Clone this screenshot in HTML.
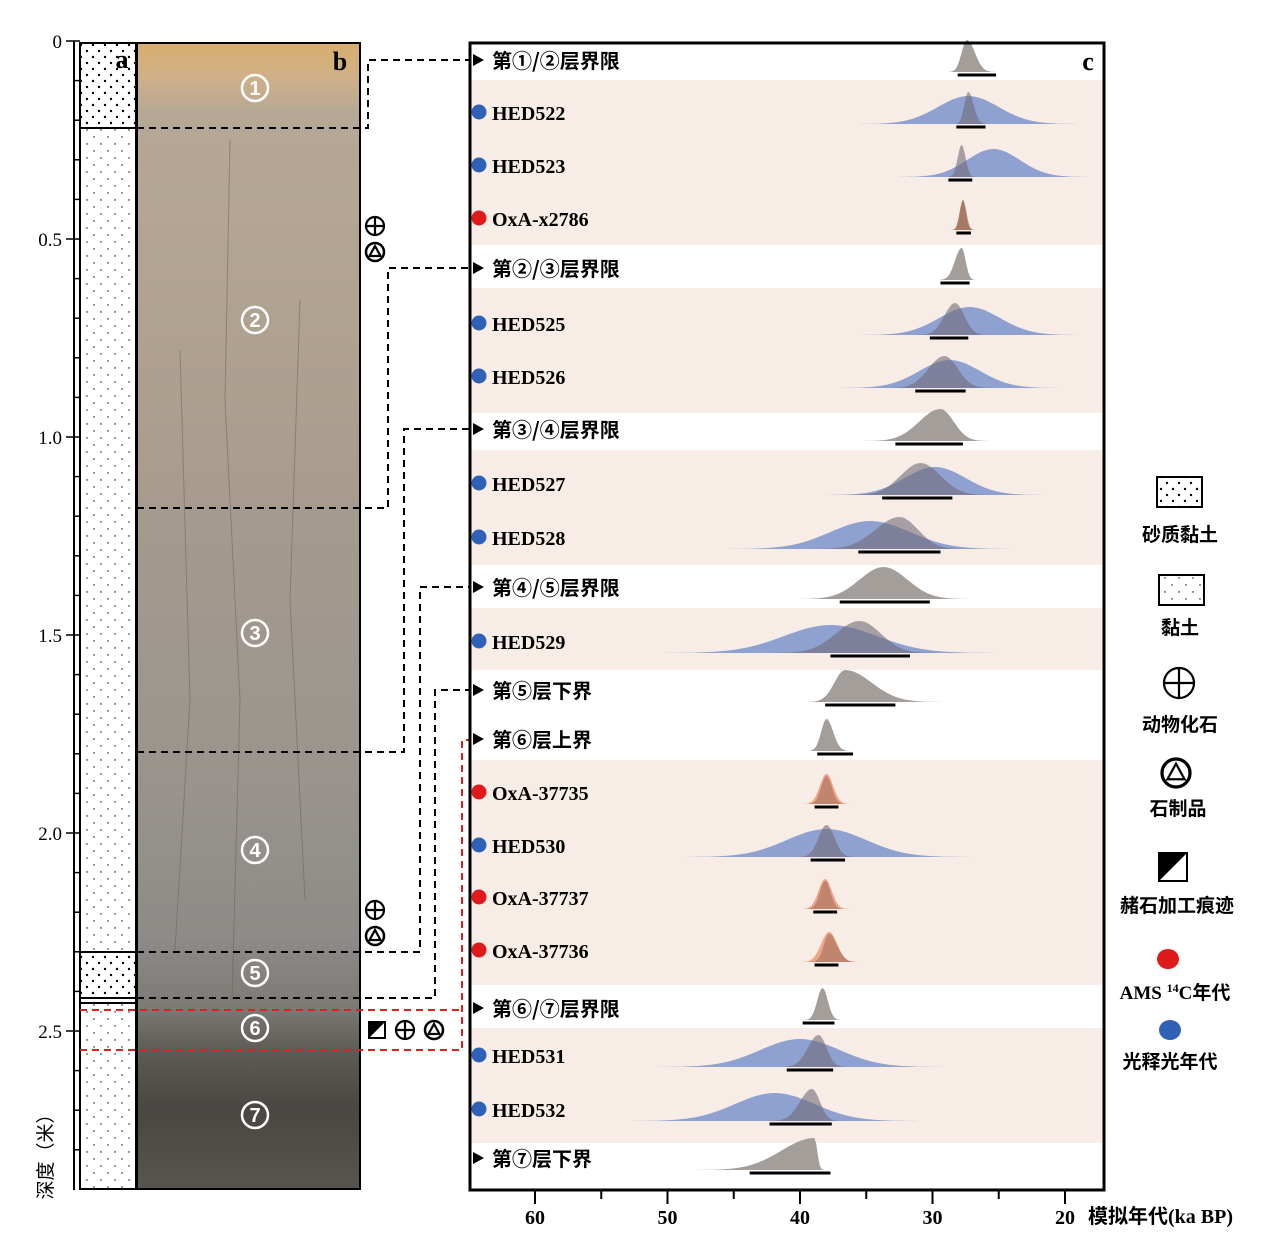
<!DOCTYPE html>
<html><head><meta charset="utf-8">
<style>
html,body{margin:0;padding:0;background:#fff;}
svg{display:block;font-family:"Liberation Serif","Noto Serif CJK SC",serif;}
</style></head>
<body>
<svg id="fig" width="1267" height="1254" viewBox="0 0 1267 1254" xmlns="http://www.w3.org/2000/svg">
<defs>
<pattern id="dense" width="12" height="12" patternUnits="userSpaceOnUse">
<rect width="12" height="12" fill="#fff"/><circle cx="3" cy="3" r="1.2" fill="#000"/><circle cx="9" cy="9" r="1.2" fill="#000"/></pattern>
<pattern id="sparse" width="14" height="14" patternUnits="userSpaceOnUse">
<rect width="14" height="14" fill="#fff"/><circle cx="3" cy="4" r="0.7" fill="#000"/><circle cx="10" cy="11" r="0.7" fill="#000"/></pattern>
<linearGradient id="soil" x1="0" y1="0" x2="0" y2="1">
<stop offset="0" stop-color="#d8ae6c"/><stop offset="0.03" stop-color="#cfb088"/>
<stop offset="0.06" stop-color="#b7a896"/><stop offset="0.35" stop-color="#ac9e8e"/>
<stop offset="0.42" stop-color="#a49a8e"/><stop offset="0.6" stop-color="#9c968e"/>
<stop offset="0.78" stop-color="#8e8b88"/><stop offset="0.84" stop-color="#7e7a76"/>
<stop offset="0.88" stop-color="#5e5a55"/><stop offset="0.93" stop-color="#4a4743"/>
<stop offset="1" stop-color="#585550"/></linearGradient>
</defs>
<g id="left"></g>
<g id="panelc"></g>
<g id="legend"></g>
</svg>
<script>
// ---- chart data ----
const rowLabels=["第①/②层界限","HED522","HED523","OxA-x2786","第②/③层界限","HED525","HED526","第③/④层界限","HED527","HED528","第④/⑤层界限","HED529","第⑤层下界","第⑥层上界","OxA-37735","HED530","OxA-37737","OxA-37736","第⑥/⑦层界限","HED531","HED532","第⑦层下界"];
const rowKinds=["b","o","o","c","b","o","o","b","o","o","b","o","b","b","c","o","c","c","b","o","o","b"];
const grayPeak=[27.4,27.3,27.8,27.7,27.8,28.3,29.1,29.4,30.9,32.5,33.7,35.5,36.6,38.0,38.0,38.0,38.1,37.8,38.3,38.6,39.1,38.9];
const graySigOld=[0.4,0.3,0.3,0.2,0.5,0.8,1.2,1.6,1.5,1.8,1.8,1.8,0.8,0.4,0.4,0.6,0.4,0.4,0.4,0.8,0.9,2.5];
const graySigYoung=[0.6,0.4,0.3,0.2,0.3,0.7,1.0,1.0,1.5,1.4,1.8,1.6,2.0,0.5,0.4,0.6,0.4,0.6,0.4,0.6,0.6,0.2];
const blueMean=[null,27.3,25.4,null,null,27.2,28.7,null,29.8,34.7,null,37.7,null,null,null,38.0,null,null,null,40.0,41.9,null];
const blueSig=[null,2.3,2.0,null,null,2.3,2.3,null,2.3,3.0,null,3.5,null,null,null,3.0,null,null,null,3.0,3.0,null];
const c14Mean=[null,null,null,27.7,null,null,null,null,null,null,null,null,null,null,38.0,null,38.1,37.8,null,null,null,null];
const c14Sig=[null,null,null,0.25,null,null,null,null,null,null,null,null,null,null,0.5,null,0.5,0.6,null,null,null,null];
const rangeOld=[28.1,28.2,28.8,28.2,29.4,30.2,31.3,32.8,33.8,35.6,37.0,37.7,38.1,38.7,38.9,39.2,39.0,38.9,39.8,41.0,42.3,43.8];
const rangeYoung=[25.2,26.0,27.0,27.1,27.2,27.3,27.5,27.7,28.5,29.4,30.2,31.7,32.8,36.0,37.1,36.6,37.2,37.1,37.4,37.5,37.6,37.7];
const xTicks=[60,50,40,30,20];
const depthTicks=["0","0.5","1.0","1.5","2.0","2.5"];

// ---- layout ----
const rowY=[60,112,165,218,268,323,376,429,483,537,587,641,690,739,792,845,897,950,1008,1055,1109,1158];
const bands=[[80,245],[288,413],[450,565],[608,670],[760,985],[1028,1143]];
const NS="http://www.w3.org/2000/svg";
function mk(tag,attrs,parent,text){const e=document.createElementNS(NS,tag);for(const k in attrs)e.setAttribute(k,attrs[k]);if(text!==undefined)e.textContent=text;parent.appendChild(e);return e;}
const xS=v=>535+(60-v)*13.25;
const dY=d=>41+d*396;

// ---- left: columns ----
const L=document.getElementById('left');
let g;
g=mk('g',{},L);
mk('line',{x1:74,y1:41,x2:74,y2:1190,stroke:'#000','stroke-width':2},g);
for(let i=0;i<=28;i++){const y=dY(i/10);mk('line',{x1:i%5==0?66:74,y1:y,x2:80,y2:y,stroke:'#000','stroke-width':1.5},g);}
depthTicks.forEach((t,i)=>{const e=mk('text',{x:62,y:dY(i*0.5)+7,'text-anchor':'end','font-size':19},g,t);});
let yl=mk('text',{x:0,y:0,transform:'translate(52,1152) rotate(-90)','text-anchor':'middle','font-size':19,'font-family':'"Noto Sans CJK SC",sans-serif'},L,'深度（米）');

g=mk('g',{},L);
mk('rect',{x:80,y:43,width:56,height:1146,fill:'url(#sparse)'},g);
mk('rect',{x:80,y:43,width:56,height:85,fill:'url(#dense)'},g);
mk('rect',{x:80,y:952,width:56,height:47,fill:'url(#dense)'},g);
mk('rect',{x:80,y:43,width:56,height:1146,fill:'none',stroke:'#000','stroke-width':2},g);
[128,952,998,1003].forEach(y=>mk('line',{x1:80,y1:y,x2:136,y2:y,stroke:'#000','stroke-width':2},g));
mk('text',{x:122,y:68,'text-anchor':'middle','font-size':26,'font-weight':'bold'},g,'a');
g=mk('g',{},L);
mk('rect',{x:137,y:43,width:223,height:1146,fill:'url(#soil)',stroke:'#000','stroke-width':2},g);
[[230,140,225,400,240,700,232,1000],[300,300,290,600,305,900],[180,350,190,700,175,950]].forEach(p=>{let d='M'+p[0]+' '+p[1];for(let i=2;i<p.length;i+=2)d+=' L'+p[i]+' '+p[i+1];mk('path',{d:d,stroke:'#6a6058','stroke-width':1,fill:'none',opacity:0.5},g);});
mk('text',{x:340,y:70,'text-anchor':'middle','font-size':26,'font-weight':'bold'},g,'b');
[['1',88],['2',320],['3',633],['4',850],['5',973],['6',1028],['7',1115]].forEach(a=>{
  const c=mk('circle',{cx:255,cy:a[1],r:13,fill:'none',stroke:'#fff','stroke-width':2.5},g);
  const e=mk('text',{x:255,y:a[1]+7,'text-anchor':'middle','font-size':20,'font-weight':'bold',fill:'#fff','font-family':'"Liberation Sans",sans-serif'},g,a[0]);
  });
// connectors
g=mk('g',{fill:'none',stroke:'#000','stroke-width':2,'stroke-dasharray':'7,5'},L);
[[128,368,60],[508,388,268],[752,404,429],[952,420,587],[998,435,690]].forEach(c=>{mk('path',{d:`M137 ${c[0]} H${c[1]} V${c[2]} H470`},g);});
mk('path',{d:'M80 1010 H462 M80 1050 H462 V740 H470',stroke:'#e02020'},g);
[60,268,429,587,690,739,1008,1158].forEach(y=>{mk('path',{d:`M473 ${y-6} L484 ${y} L473 ${y+6}Z`,fill:'#000'},L);});
function plusC(cx,cy,p,r){r=r||9;mk('circle',{cx:cx,cy:cy,r:r,fill:'none',stroke:'#000','stroke-width':2.2},p);mk('path',{d:`M${cx-r} ${cy}H${cx+r}M${cx} ${cy-r}V${cy+r}`,stroke:'#000','stroke-width':2.2},p);}
function triC(cx,cy,p,r){r=r||9;const k=r/9;mk('circle',{cx:cx,cy:cy,r:r,fill:'none',stroke:'#000','stroke-width':2.5*Math.min(k,1.3)},p);mk('path',{d:`M${cx} ${cy-6*k}L${cx+5.5*k} ${cy+4*k}L${cx-5.5*k} ${cy+4*k}Z`,fill:'none',stroke:'#000','stroke-width':2.2},p);}
function ochre(cx,cy,p,s){mk('rect',{x:cx-s,y:cy-s,width:2*s,height:2*s,fill:'#fff',stroke:'#000','stroke-width':2},p);mk('path',{d:`M${cx-s} ${cy-s}H${cx+s}L${cx-s} ${cy+s}Z`,fill:'#000'},p);}
g=mk('g',{},L);
plusC(375,226,g);triC(375,252,g);plusC(375,910,g);triC(375,936,g);ochre(377,1030,g,8);plusC(405,1030,g);triC(434,1030,g);

// ---- panel c ----
const P=document.getElementById('panelc');
bands.forEach(b=>{const r=mk('rect',{x:470,y:b[0],width:634,height:b[1]-b[0],fill:'#f7ede6'},P);});
function curve(mean,sOld,sYoung,h,base,fill,op,name){
  let d=`M${xS(mean+4*sOld)} ${base}`;
  for(let i=0;i<=80;i++){const v=mean+4*sOld-(i/80)*(4*sOld+4*sYoung);const s=v>mean?sOld:sYoung;const y=base-h*Math.exp(-0.5*((v-mean)/s)**2);d+=` L${xS(v).toFixed(1)} ${y.toFixed(1)}`;}
  d+=' Z';const e=mk('path',{d:d,fill:fill,opacity:op},P);
  
  }
rowLabels.forEach((lab,i)=>{
  const y=rowY[i],base=y+12;
  if(blueMean[i]!=null) curve(blueMean[i],blueSig[i],blueSig[i],28,base,'#8ea1d0',1,'osl-distribution');
  if(c14Mean[i]!=null) curve(c14Mean[i],c14Sig[i],c14Sig[i],30,base,i==3?'#b0856c':'#f2a484',1,'c14-distribution');
  curve(grayPeak[i],graySigOld[i],graySigYoung[i],rowKinds[i]=='c'?28:32,base,rowKinds[i]=='b'?'#a39e9a':(rowKinds[i]=='c'?'#a07060':'#6f6a78'),rowKinds[i]=='b'?1:0.6,'modelled-distribution');
  const r=mk('line',{x1:xS(rangeOld[i]),y1:base+3,x2:xS(rangeYoung[i]),y2:base+3,stroke:'#000','stroke-width':3},P);
  
  
  if(rowKinds[i]!='b'){const c=mk('circle',{cx:479,cy:y,r:7.5,fill:rowKinds[i]=='o'?'#2f62b6':'#e01a1a'},P);}
  const t=mk('text',{x:492,y:y+8,'font-size':20,'font-weight':'bold','font-family':rowKinds[i]=='b'?'"Noto Sans CJK SC",sans-serif':'"Liberation Serif",serif'},P,lab);
  
  
});
mk('rect',{x:470,y:43,width:634,height:1147,fill:'none',stroke:'#000','stroke-width':3},P);
mk('text',{x:1088,y:70,'text-anchor':'middle','font-size':26,'font-weight':'bold'},P,'c');
for(let v=60;v>=20;v-=5){mk('line',{x1:xS(v),y1:1190,x2:xS(v),y2:v%10==0?1204:1199,stroke:'#000','stroke-width':2},P);}
xTicks.forEach(v=>{const e=mk('text',{x:xS(v),y:1224,'text-anchor':'middle','font-size':20,'font-weight':'bold'},P,String(v));});
let xt=mk('text',{x:1088,y:1223,'font-size':20,'font-weight':'bold','font-family':'"Liberation Serif","Noto Sans CJK SC",serif'},P,'模拟年代(ka BP)');


// ---- legend ----
const G=document.getElementById('legend');

const lf='"Noto Sans CJK SC",sans-serif';
mk('rect',{x:1157,y:477,width:45,height:30,fill:'url(#dense)',stroke:'#000','stroke-width':2},G);
mk('text',{x:1180,y:541,'text-anchor':'middle','font-size':19,'font-weight':'bold','font-family':lf},G,'砂质黏土');
mk('rect',{x:1159,y:575,width:45,height:30,fill:'url(#sparse)',stroke:'#000','stroke-width':2},G);
mk('text',{x:1180,y:634,'text-anchor':'middle','font-size':19,'font-weight':'bold','font-family':lf},G,'黏土');
plusC(1179,683,G,15);
mk('text',{x:1180,y:731,'text-anchor':'middle','font-size':19,'font-weight':'bold','font-family':lf},G,'动物化石');
triC(1176,773,G,14);
mk('text',{x:1178,y:815,'text-anchor':'middle','font-size':19,'font-weight':'bold','font-family':lf},G,'石制品');
ochre(1173,867,G,14);
mk('text',{x:1177,y:912,'text-anchor':'middle','font-size':19,'font-weight':'bold','font-family':lf},G,'赭石加工痕迹');
mk('ellipse',{cx:1168,cy:959,rx:11,ry:10,fill:'#e01a1a'},G);
const am=mk('text',{x:1175,y:999,'text-anchor':'middle','font-size':19,'font-family':'"Liberation Serif","Noto Sans CJK SC",serif','font-weight':'bold'},G);
am.innerHTML='AMS <tspan font-size="12" dy="-7">14</tspan><tspan dy="7">C年代</tspan>';
mk('ellipse',{cx:1170,cy:1030,rx:11,ry:10,fill:'#2f62b6'},G);
mk('text',{x:1170,y:1068,'text-anchor':'middle','font-size':19,'font-weight':'bold','font-family':lf},G,'光释光年代');
</script>
</body></html>
